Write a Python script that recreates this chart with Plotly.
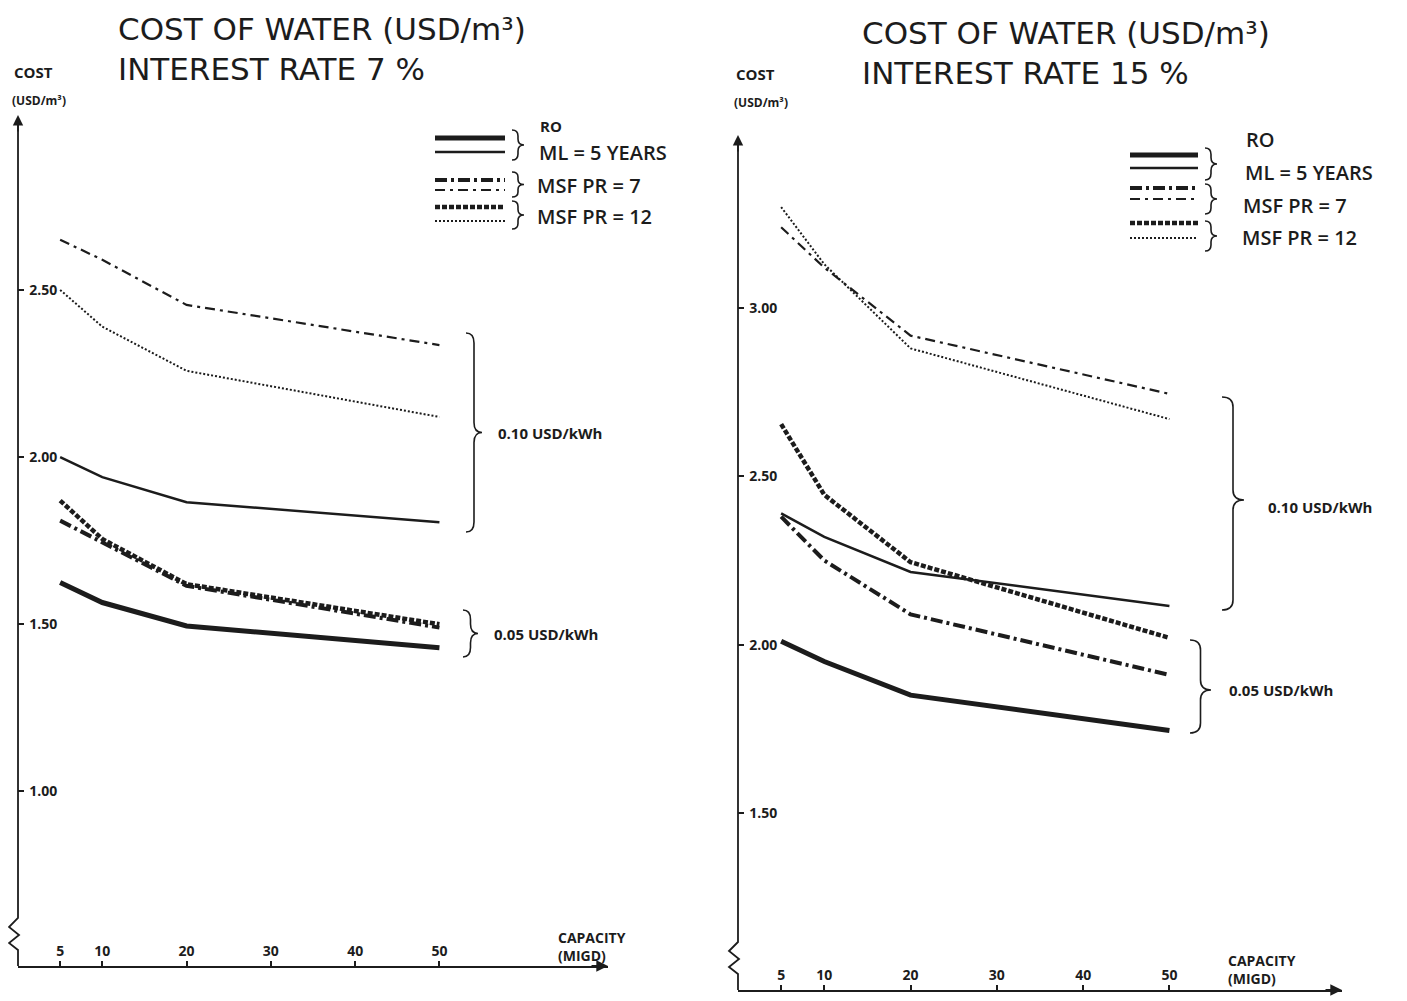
import plotly.graph_objects as go

# ---------------- data ----------------
capacity = [5, 10, 20, 50]
x_ticks = [5, 10, 20, 30, 40, 50]

# Interest rate 7 %
l_ro_010 = [2.00, 1.94, 1.865, 1.805]
l_ro_005 = [1.625, 1.565, 1.495, 1.43]
l_msf7_010 = [2.65, 2.59, 2.455, 2.335]
l_msf7_005 = [1.81, 1.745, 1.615, 1.49]
l_msf12_010 = [2.50, 2.39, 2.258, 2.12]
l_msf12_005 = [1.87, 1.755, 1.62, 1.50]
l_y_ticks = [1.00, 1.50, 2.00, 2.50]

# Interest rate 15 %
r_ro_010 = [2.39, 2.32, 2.216, 2.115]
r_ro_005 = [2.01, 1.95, 1.85, 1.745]
r_msf7_010 = [3.24, 3.12, 2.918, 2.745]
r_msf7_005 = [2.38, 2.25, 2.09, 1.91]
r_msf12_010 = [3.30, 3.13, 2.88, 2.67]
r_msf12_005 = [2.655, 2.445, 2.245, 2.02]
r_y_ticks = [1.50, 2.00, 2.50, 3.00]

W, H = 1407, 1001
OFF = 8  # default page margin of the html body
INK = "#1c1c1c"

def px(x):
    return (x - OFF) / W

def py(y):
    return 1 - (y - OFF) / H

STYLES = {
    "ro_005": dict(width=5, dash="solid"),
    "ro_010": dict(width=2.5, dash="solid"),
    "msf7_005": dict(width=4, dash="12px,4px,3px,4px"),
    "msf7_010": dict(width=2.2, dash="10px,5px,3px,5px"),
    "msf12_005": dict(width=4.5, dash="5px,2px"),
    "msf12_010": dict(width=2, dash="2px,2px"),
}

fig = go.Figure()

def add_panel(series, xa, ya):
    for key, vals in series.items():
        st = STYLES[key]
        fig.add_trace(go.Scatter(
            x=capacity, y=vals, mode="lines", xaxis=xa, yaxis=ya,
            line=dict(color=INK, width=st["width"], dash=st["dash"]),
            showlegend=False, hoverinfo="skip"))

add_panel({"msf7_010": l_msf7_010, "msf12_010": l_msf12_010, "ro_010": l_ro_010,
           "msf12_005": l_msf12_005, "msf7_005": l_msf7_005, "ro_005": l_ro_005}, "x", "y")
add_panel({"msf7_010": r_msf7_010, "msf12_010": r_msf12_010, "ro_010": r_ro_010,
           "msf12_005": r_msf12_005, "msf7_005": r_msf7_005, "ro_005": r_ro_005}, "x2", "y2")

# panel geometry (pixels)
L = dict(x0=18, x1=608, yb=966, yt=115)
R = dict(x0=738, x1=1342, yb=990, yt=135)

TICKFONT = dict(family="Open Sans", size=14, color=INK, weight="bold")

def axis_x(p):
    return dict(domain=[px(p["x0"]), px(p["x1"])], range=[0, 70], tickvals=x_ticks,
                ticks="inside", ticklen=5, tickwidth=1.5, tickcolor=INK,
                ticklabelposition="inside", ticklabelstandoff=2,
                showgrid=False, zeroline=False,
                showline=True, linecolor=INK, linewidth=2, tickfont=TICKFONT)

def axis_y(p, rng, tv, anchor):
    return dict(domain=[py(p["yb"]), py(p["yt"])], range=rng, tickvals=tv,
                ticktext=[f"{v:.2f}" for v in tv],
                ticks="inside", ticklen=6, tickwidth=2, tickcolor=INK,
                ticklabelposition="inside", ticklabelstandoff=5,
                showgrid=False, zeroline=False,
                showline=False, anchor=anchor, tickfont=TICKFONT)

fig.update_layout(
    width=W, height=H, margin=dict(l=0, r=0, t=0, b=0),
    paper_bgcolor="white", plot_bgcolor="white",
    xaxis=dict(axis_x(L), anchor="y"),
    yaxis=axis_y(L, [0.478, 3.023], l_y_ticks, "x"),
    xaxis2=dict(axis_x(R), anchor="y2"),
    yaxis2=axis_y(R, [0.974, 3.514], r_y_ticks, "x2"),
)

shapes = []
annotations = []

def yaxis_path(p):
    x0, yb, yt = p["x0"], p["yb"], p["yt"]
    pts = [(x0, yt + 5), (x0, yb - 48), (x0 - 9, yb - 39), (x0 + 1, yb - 31),
           (x0 - 9, yb - 23), (x0, yb - 16), (x0, yb)]
    d = "M " + " L ".join(f"{px(a):.5f},{py(b):.5f}" for a, b in pts)
    shapes.append(dict(type="path", path=d, xref="paper", yref="paper",
                       line=dict(color=INK, width=1.8)))
    annotations.append(dict(x=px(x0), y=py(yt), xref="paper", yref="paper", text="",
                            showarrow=True, ax=0, ay=18, arrowhead=2, arrowsize=1.3,
                            arrowwidth=1.6, arrowcolor=INK))
    annotations.append(dict(x=px(p["x1"]), y=py(yb), xref="paper", yref="paper", text="",
                            showarrow=True, ax=-18, ay=0, arrowhead=2, arrowsize=1.3,
                            arrowwidth=1.8, arrowcolor=INK))

yaxis_path(L)
yaxis_path(R)

def brace(x, y1, y2, w, ym=None, lw=1.6):
    if ym is None:
        ym = (y1 + y2) / 2
    r = min(10, (y2 - y1) / 5)
    xm = x + w / 2
    segs = [
        f"M {px(x):.5f},{py(y1):.5f}",
        f"Q {px(xm):.5f},{py(y1):.5f} {px(xm):.5f},{py(y1 + r):.5f}",
        f"L {px(xm):.5f},{py(ym - r):.5f}",
        f"Q {px(xm):.5f},{py(ym):.5f} {px(x + w):.5f},{py(ym):.5f}",
        f"Q {px(xm):.5f},{py(ym):.5f} {px(xm):.5f},{py(ym + r):.5f}",
        f"L {px(xm):.5f},{py(y2 - r):.5f}",
        f"Q {px(xm):.5f},{py(y2):.5f} {px(x):.5f},{py(y2):.5f}",
    ]
    shapes.append(dict(type="path", path=" ".join(segs), xref="paper", yref="paper",
                       line=dict(color=INK, width=lw)))

def text(x, y, s, size=13, anchor="left", family="Open Sans", weight="bold"):
    annotations.append(dict(x=px(x), y=py(y), xref="paper", yref="paper", text=s,
                            showarrow=False, xanchor=anchor, yanchor="middle", align="left",
                            font=dict(family=family, size=size, color=INK, weight=weight)))

def leg_line(x1, x2, y, key):
    st = STYLES[key]
    shapes.append(dict(type="line", x0=px(x1), x1=px(x2), y0=py(y), y1=py(y),
                       xref="paper", yref="paper",
                       line=dict(color=INK, width=st["width"], dash=st["dash"])))

TITLE = 31
TITLE_FONT = "DejaVu Sans"
LEG = 20

# ---- left panel decorations ----
text(116, 49, "COST OF WATER (USD/m³)<br>INTEREST RATE 7 %", size=TITLE,
     family=TITLE_FONT, weight="normal")
text(12, 72, "COST", size=15)
text(10, 100, "(USD/m³)", size=12)
for y, k in [(138, "ro_005"), (152, "ro_010"), (180, "msf7_005"), (190, "msf7_010"),
             (207, "msf12_005"), (221, "msf12_010")]:
    leg_line(435, 505, y, k)
brace(512, 130, 160, 12)
brace(512, 172, 197, 12)
brace(512, 201, 229, 12)
text(551, 126, "RO", size=15, anchor="center")
text(537, 152, "ML = 5 YEARS", size=LEG, weight=600)
text(535, 185, "MSF PR = 7", size=LEG, weight=600)
text(535, 216, "MSF PR = 12", size=LEG, weight=600)
brace(466, 333, 532, 16)
text(496, 433, "0.10 USD/kWh", size=15)
brace(463, 610, 657, 15)
text(492, 634, "0.05 USD/kWh", size=15)
text(556, 946, "CAPACITY<br>(MIGD)", size=14)

# ---- right panel decorations ----
text(860, 53, "COST OF WATER (USD/m³)<br>INTEREST RATE 15 %", size=TITLE,
     family=TITLE_FONT, weight="normal")
text(734, 74, "COST", size=15)
text(732, 102, "(USD/m³)", size=12)
for y, k in [(155, "ro_005"), (168, "ro_010"), (188, "msf7_005"), (199, "msf7_010"),
             (223, "msf12_005"), (238, "msf12_010")]:
    leg_line(1130, 1198, y, k)
brace(1205, 148, 180, 12)
brace(1205, 184, 214, 12)
brace(1205, 221, 251, 12)
text(1260, 140, "RO", size=LEG, anchor="center", weight=600)
text(1243, 173, "ML = 5 YEARS", size=LEG, weight=600)
text(1241, 205, "MSF PR = 7", size=LEG, weight=600)
text(1240, 237, "MSF PR = 12", size=LEG, weight=600)
brace(1222, 397, 610, 22, ym=500)
text(1266, 507, "0.10 USD/kWh", size=15)
brace(1190, 640, 733, 21, ym=690)
text(1227, 690, "0.05 USD/kWh", size=15)
text(1226, 969, "CAPACITY<br>(MIGD)", size=14)

fig.update_layout(shapes=shapes, annotations=annotations)
fig.write_html("out.html")
